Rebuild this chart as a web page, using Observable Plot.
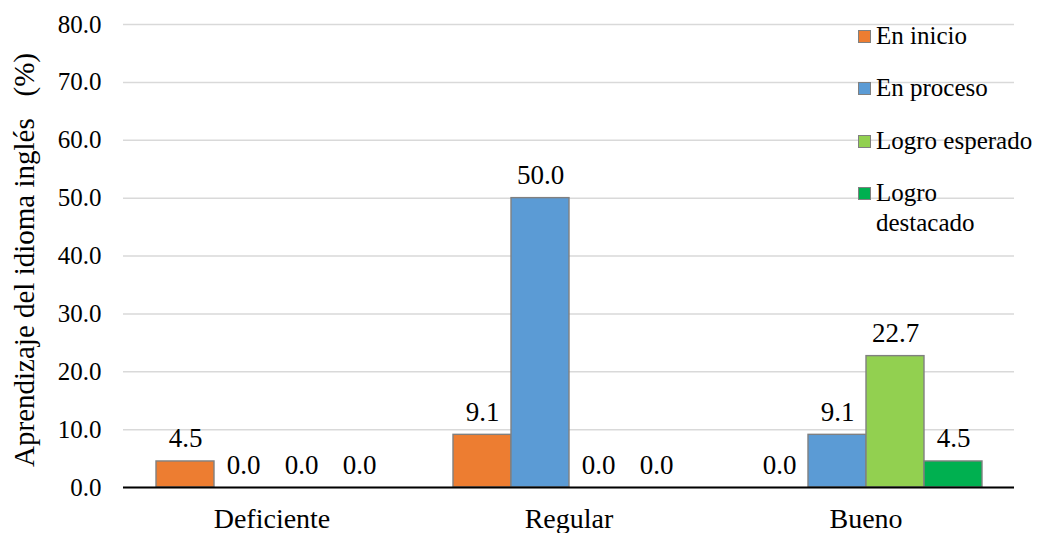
<!DOCTYPE html>
<html>
<head>
<meta charset="utf-8">
<script src="https://cdn.jsdelivr.net/npm/d3@7"></script>
<script src="https://cdn.jsdelivr.net/npm/@observablehq/plot@0.6"></script>
<style>
  html, body { margin: 0; padding: 0; background: #fff; }
  #wrap { position: relative; width: 1038px; height: 533px; font-family: "Liberation Serif", "Times New Roman", serif; }
  #legend { position: absolute; left: 858px; top: 20.5px; font-size: 25px; color: #000; }
  .item { display: flex; align-items: flex-start; width: 180px; line-height: 30px; margin-bottom: 22.5px; }
  .sw { width: 11px; height: 11px; border: 1px solid #808080; margin-top: 9px; margin-right: 5px; flex: none; }
  .lbl { width: 160px; }
</style>
</head>
<body>
<div id="wrap"></div>
<script>
const categories = ["Deficiente", "Regular", "Bueno"];
const series = ["En inicio", "En proceso", "Logro esperado", "Logro destacado"];
const enInicio = [4.5, 9.1, 0.0];
const enProceso = [0.0, 50.0, 9.1];
const logroEsperado = [0.0, 0.0, 22.7];
const logroDestacado = [0.0, 0.0, 4.5];
const colors = ["#ED7D31", "#5B9BD5", "#92D050", "#00B050"];
const yTicks = [0, 10, 20, 30, 40, 50, 60, 70, 80];
const yLabel = "Aprendizaje del idioma inglés\u00a0\u00a0 (%)";

const valuesBySeries = [enInicio, enProceso, logroEsperado, logroDestacado];
const data = [];
categories.forEach((c, i) => {
  series.forEach((s, j) => {
    data.push({category: c, series: s, value: valuesBySeries[j][i]});
  });
});

const font = '"Liberation Serif", "Times New Roman", serif';

const chart = Plot.plot({
  width: 1038,
  height: 533,
  marginLeft: 122,
  marginRight: 24,
  marginTop: 24,
  marginBottom: 46,
  style: {fontFamily: font, fontSize: "25px", color: "#000", background: "#fff"},
  fx: {domain: categories, padding: 0, label: null, axis: null},
  x: {domain: series, paddingInner: 0, paddingOuter: 0.54, axis: null},
  y: {domain: [0, 80], axis: null},
  color: {domain: series, range: colors},
  marks: [
    Plot.gridY(yTicks, {stroke: "#d9d9d9", strokeOpacity: 1, strokeWidth: 1.5}),
    Plot.axisY(yTicks, {
      tickSize: 0, tickPadding: 22, fontSize: 25,
      tickFormat: d => d.toFixed(1),
      label: null
    }),
    Plot.text([{category: categories[0], label: yLabel}], {
      fx: "category", text: "label", frameAnchor: "left",
      rotate: -90, dx: -110, dy: 4, lineAnchor: "top", textAnchor: "middle",
      fontSize: 29, fill: "#000"
    }),
    Plot.axisFx({anchor: "bottom", tickSize: 0, tickPadding: 21, fontSize: 28, label: null}),
    Plot.barY(data.filter(d => d.value > 0), {
      fx: "category", x: "series", y: "value", fill: "series",
      stroke: "#808080", strokeWidth: 1.4
    }),
    Plot.ruleY([0], {stroke: "#000", strokeWidth: 2}),
    Plot.text(data, {
      fx: "category", x: "series", y: "value",
      text: d => d.value.toFixed(1),
      dy: -14, lineAnchor: "bottom", fontSize: 27, fill: "#000"
    })
  ]
});

const wrap = document.getElementById("wrap");
wrap.appendChild(chart);

const legend = document.createElement("div");
legend.id = "legend";
series.forEach((s, j) => {
  const item = document.createElement("div");
  item.className = "item";
  const sw = document.createElement("div");
  sw.className = "sw";
  sw.style.background = colors[j];
  const lbl = document.createElement("div");
  lbl.className = "lbl";
  lbl.textContent = s;
  item.appendChild(sw);
  item.appendChild(lbl);
  legend.appendChild(item);
});
wrap.appendChild(legend);
</script>
</body>
</html>
